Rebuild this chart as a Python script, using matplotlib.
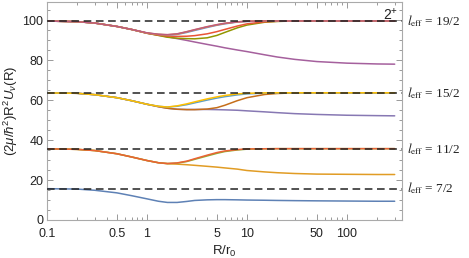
import matplotlib
matplotlib.use("Agg")
import matplotlib.pyplot as plt
from matplotlib.ticker import FixedLocator, NullFormatter, FixedFormatter

plt.rcParams['font.family'] = ['Liberation Sans', 'DejaVu Sans']
plt.rcParams['mathtext.fontset'] = 'custom'
plt.rcParams['mathtext.rm'] = 'Liberation Sans'
plt.rcParams['mathtext.it'] = 'Liberation Sans:italic'

# shared radial grid R/r0
R = [0.1, 0.2, 0.3, 0.5, 0.7, 1, 1.3, 1.6, 2, 2.5, 3, 4, 5, 6, 8, 10, 15, 20, 30, 50, 100, 200, 300]

# asymptotes l_eff(l_eff+1)
l_eff_labels = ["7/2", "11/2", "15/2", "19/2"]
l_eff_values = [15.75, 35.75, 63.75, 99.75]

# l_eff = 7/2
c_blue = [15.7, 15.5, 14.9, 13.6, 12.2, 10.6, 9.4, 8.8, 8.8, 9.3, 9.8, 10.1, 10.2, 10.2, 10.1, 10.0, 9.9, 9.8, 9.7, 9.6, 9.5, 9.4, 9.4]
# l_eff = 11/2
c_orange = [35.7, 35.4, 34.8, 33.2, 31.6, 29.8, 28.7, 28.2, 28.0, 27.7, 27.4, 26.9, 26.5, 26.1, 25.5, 24.8, 24.1, 23.7, 23.3, 23.0, 22.9, 22.8, 22.8]
c_green = [35.7, 35.4, 34.8, 33.2, 31.6, 29.8, 28.7, 28.3, 28.5, 29.3, 30.4, 32.1, 33.4, 34.3, 35.1, 35.5, 35.7, 35.75, 35.75, 35.75, 35.75, 35.75, 35.75]
c_red = [35.7, 35.4, 34.8, 33.2, 31.6, 29.8, 28.7, 28.3, 28.6, 29.5, 30.7, 32.5, 33.8, 34.6, 35.3, 35.6, 35.7, 35.75, 35.75, 35.75, 35.75, 35.75, 35.75]
# l_eff = 15/2
c_purple = [63.7, 63.5, 62.8, 61.3, 59.8, 58.0, 56.8, 56.0, 55.5, 55.4, 55.4, 55.4, 55.3, 55.2, 55.0, 54.7, 54.2, 53.8, 53.3, 52.9, 52.5, 52.3, 52.2]
c_darkorange = [63.7, 63.5, 62.8, 61.3, 59.8, 58.0, 56.8, 56.0, 55.5, 55.3, 55.3, 55.6, 56.3, 57.5, 59.8, 61.3, 62.9, 63.4, 63.7, 63.75, 63.75, 63.75, 63.75]
c_lightblue = [63.7, 63.5, 62.8, 61.3, 59.8, 58.0, 57.0, 56.6, 57.0, 57.8, 58.7, 60.1, 61.1, 61.8, 62.7, 63.2, 63.6, 63.7, 63.75, 63.75, 63.75, 63.75, 63.75]
c_yellow = [63.7, 63.5, 62.8, 61.3, 59.8, 58.0, 57.0, 56.6, 57.2, 58.2, 59.2, 60.7, 61.7, 62.4, 63.2, 63.5, 63.7, 63.75, 63.75, 63.75, 63.75, 63.75, 63.75]
# l_eff = 19/2
c_pinkpurple = [99.7, 99.4, 98.7, 97.0, 95.5, 93.6, 92.6, 91.8, 90.9, 90.0, 89.2, 88.0, 87.1, 86.3, 85.2, 84.4, 82.8, 81.7, 80.5, 79.4, 78.6, 78.2, 78.1]
c_olive = [99.7, 99.4, 98.7, 97.0, 95.5, 93.6, 92.5, 91.6, 91.1, 90.9, 90.8, 91.3, 92.5, 94.0, 96.3, 97.7, 99.1, 99.5, 99.75, 99.75, 99.75, 99.75, 99.75]
c_red2 = [99.7, 99.4, 98.7, 97.0, 95.5, 93.6, 92.7, 92.2, 92.0, 92.1, 92.4, 93.3, 94.4, 95.5, 97.2, 98.3, 99.3, 99.6, 99.75, 99.75, 99.75, 99.75, 99.75]
c_blue2 = [99.7, 99.4, 98.7, 97.0, 95.5, 93.7, 93.0, 92.7, 93.0, 94.0, 95.0, 96.5, 97.6, 98.3, 99.2, 99.5, 99.7, 99.75, 99.75, 99.75, 99.75, 99.75, 99.75]
c_orange2 = [99.7, 99.4, 98.7, 97.0, 95.5, 93.7, 93.0, 92.8, 93.2, 94.3, 95.3, 96.8, 97.8, 98.5, 99.3, 99.6, 99.75, 99.75, 99.75, 99.75, 99.75, 99.75, 99.75]
c_pink = [99.7, 99.4, 98.7, 97.0, 95.5, 93.8, 93.1, 92.9, 93.3, 94.4, 95.4, 96.9, 97.9, 98.6, 99.3, 99.6, 99.75, 99.75, 99.75, 99.75, 99.75, 99.75, 99.75]

curves = [
    (c_blue, '#5E81B5'),
    (c_orange, '#E19C24'), (c_green, '#8FB032'), (c_red, '#EB6235'),
    (c_purple, '#8778B3'), (c_darkorange, '#C56E1A'), (c_lightblue, '#5D9EC7'), (c_yellow, '#FFBF00'),
    (c_pinkpurple, '#A5609D'), (c_olive, '#929600'), (c_red2, '#E95536'), (c_blue2, '#6685D9'),
    (c_orange2, '#F89F13'), (c_pink, '#BC5B80'),
]

fig = plt.figure(figsize=(4.69, 2.58), dpi=100)
ax = fig.add_axes([47/469, 1 - 220/258, (402 - 47)/469, (220 - 1.5)/258])

for vals, col in curves:
    ax.plot(R, vals, color=col, lw=1.1, solid_capstyle='round')

for v in l_eff_values:
    ax.axhline(v, color='#222222', lw=1.1, ls=(0, (5, 3)), zorder=5)

ax.set_xscale('log')
ax.set_xlim(0.1, 355)
ax.set_ylim(0, 109.5)

xmaj = [0.1, 0.5, 1, 5, 10, 50, 100]
ax.xaxis.set_major_locator(FixedLocator(xmaj))
ax.xaxis.set_major_formatter(FixedFormatter(["0.1", "0.5", "1", "5", "10", "50", "100"]))
xmin = [m * d for d in [0.1, 1, 10, 100] for m in range(1, 10) if m * d not in xmaj and m * d <= 355]
ax.xaxis.set_minor_locator(FixedLocator(xmin))
ax.xaxis.set_minor_formatter(NullFormatter())
ax.set_yticks([0, 20, 40, 60, 80, 100])
ax.yaxis.set_minor_locator(FixedLocator([v for v in range(5, 110, 5) if v % 20 != 0]))

ax.tick_params(which='both', direction='in', top=True, right=True, labelsize=9,
               colors='#999999', labelcolor='#222222', width=0.7)
ax.tick_params(axis='x', pad=5.5)
ax.tick_params(axis='y', pad=2.5)
ax.tick_params(which='major', length=4)
ax.tick_params(which='minor', length=2)
for s in ax.spines.values():
    s.set_color('#aaaaaa')
    s.set_linewidth(0.8)

ax.set_xlabel(r'R/r$_0$', fontsize=9.5, color='#222222', labelpad=3)
ax.set_ylabel(r'$\mathrm{(2}\mu/\hbar^{2}\mathrm{)R}^{2}U_{\nu}\mathrm{(R)}$', fontsize=9.5, color='#222222', labelpad=2)

for lab, v in zip(l_eff_labels, l_eff_values):
    ax.text(1.014, v, r'$l_{\mathrm{eff}}$ = ' + lab, transform=ax.get_yaxis_transform(),
            fontsize=9.5, family=['Liberation Serif', 'DejaVu Serif'], math_fontfamily='stix',
            ha='left', va='center', color='#222222')

ax.text(0.988, 0.975, r'2$^{+}$', transform=ax.transAxes, ha='right', va='top', fontsize=10, color='#222222')

fig.savefig('out.png', dpi=100)
